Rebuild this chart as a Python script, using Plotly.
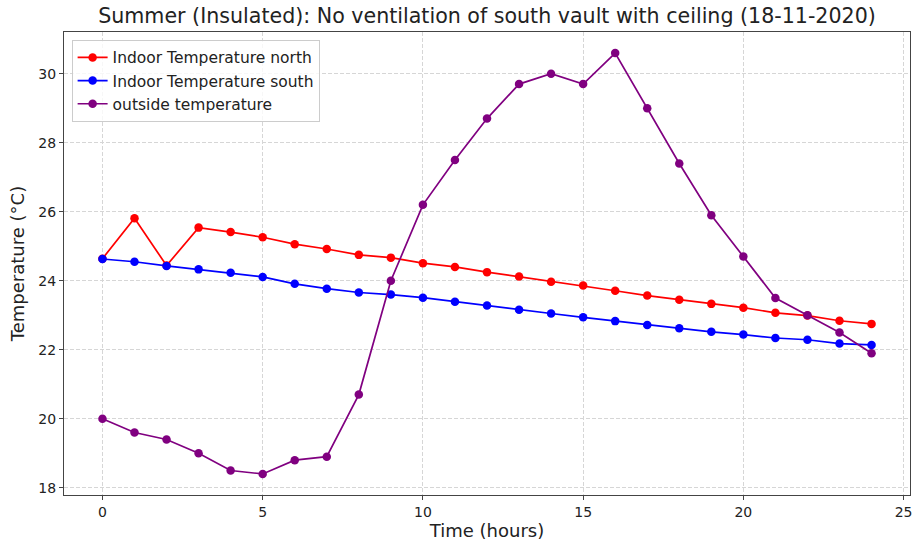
import plotly.graph_objects as go

hours = list(range(25))
north = [24.64, 25.81, 24.44, 25.54, 25.41, 25.26, 25.06, 24.92, 24.75, 24.67, 24.51, 24.40, 24.25,
         24.12, 23.97, 23.86, 23.71, 23.57, 23.45, 23.33, 23.22, 23.07, 22.99, 22.84, 22.75]
south = [24.63, 24.55, 24.43, 24.33, 24.23, 24.11, 23.91, 23.77, 23.66, 23.60, 23.51, 23.39, 23.28,
         23.16, 23.05, 22.94, 22.83, 22.72, 22.62, 22.52, 22.44, 22.34, 22.29, 22.18, 22.14]
outside = [20.0, 19.6, 19.4, 19.0, 18.5, 18.4, 18.8, 18.9, 20.7, 24.0, 26.2, 27.5, 28.7,
           29.7, 30.0, 29.7, 30.6, 29.0, 27.4, 25.9, 24.7, 23.5, 23.0, 22.5, 21.9]

series = [
    ("Indoor Temperature north", north, "red"),
    ("Indoor Temperature south", south, "blue"),
    ("outside temperature", outside, "purple"),
]

fig = go.Figure()
for name, vals, col in series:
    fig.add_trace(go.Scatter(x=hours, y=vals, name=name, mode="lines+markers",
                             line=dict(color=col, width=1.7),
                             marker=dict(color=col, size=8.5)))

font = "DejaVu Sans, Arial, sans-serif"
axis_common = dict(showline=True, linecolor="#444", linewidth=1.2, mirror=True,
                   ticks="outside", ticklen=4, tickcolor="#444",
                   showgrid=True, gridcolor="#d6d6d6", griddash="4px,2px", gridwidth=1,
                   zeroline=False, tickfont=dict(size=14, color="#222"))

fig.update_layout(
    width=917, height=542,
    margin=dict(l=64, r=5, t=32, b=46),
    paper_bgcolor="white", plot_bgcolor="white",
    font=dict(family=font, color="#222"),
    title=dict(text="Summer (Insulated): No ventilation of south vault with ceiling (18-11-2020)",
               x=0.5, xref="paper", y=1 - 16 / 542, yref="container", xanchor="center", yanchor="middle",
               font=dict(size=20.6, color="#222")),
    xaxis=dict(range=[-1.2, 25.2], tickvals=[0, 5, 10, 15, 20, 25],
               title=dict(text="Time (hours)", font=dict(size=18), standoff=4), **axis_common),
    yaxis=dict(range=[17.79, 31.21], tickvals=[18, 20, 22, 24, 26, 28, 30],
               title=dict(text="Temperature (°C)", font=dict(size=18), standoff=8), **axis_common),
    legend=dict(x=0.009, y=0.983, xanchor="left", yanchor="top",
                bordercolor="#cccccc", borderwidth=1, bgcolor="rgba(255,255,255,0.8)",
                font=dict(size=15.5), tracegroupgap=0, itemwidth=30),
    showlegend=True,
)

fig.write_html("out.html", config={"displayModeBar": False},
               post_script="document.body.style.margin='0';document.body.style.overflow='hidden';")
